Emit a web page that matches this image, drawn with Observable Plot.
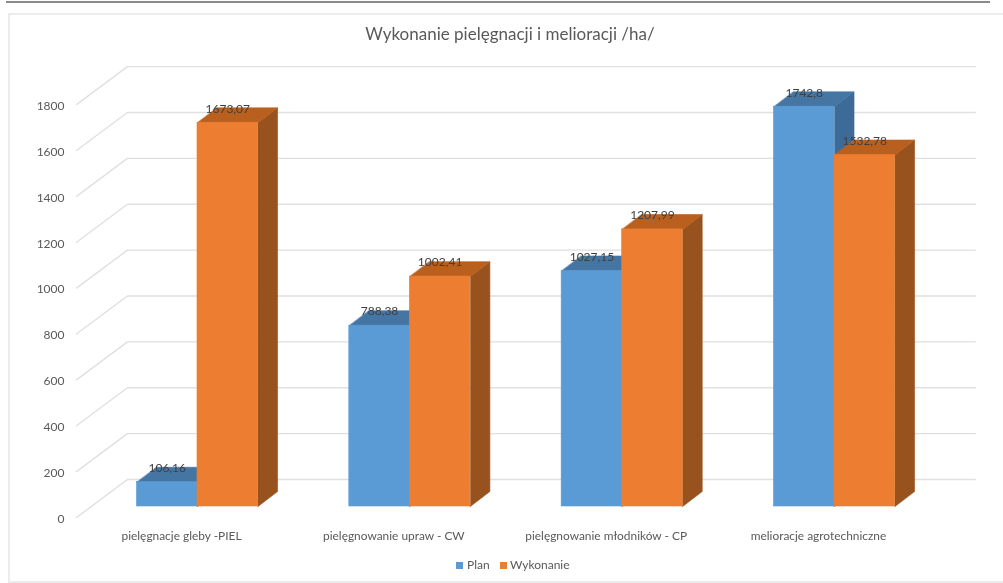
<!DOCTYPE html>
<html><head><meta charset="utf-8">
<script src="https://cdn.jsdelivr.net/npm/d3@7"></script>
<script src="https://cdn.jsdelivr.net/npm/@observablehq/plot@0.6"></script>
<style>
html,body{margin:0;padding:0;background:#fff;}
#page{position:relative;width:1003px;height:583px;overflow:hidden;font-family:Lato,sans-serif;filter:blur(0.6px);}
#rule{position:absolute;left:6px;top:1px;width:984px;height:2px;background:#8a8a8a;}
#frame{position:absolute;left:8px;top:13px;width:1020px;height:570px;border:2px solid #ececec;box-sizing:border-box;}
#title{position:absolute;left:0;top:22px;width:1020px;text-align:center;font-size:17px;color:#595959;line-height:24px;}
#chart{position:absolute;left:0;top:55px;}
#legend{position:absolute;top:557px;left:0;width:1003px;height:16px;font-size:12px;line-height:16px;color:#595959;}
#legend span{position:absolute;top:0;white-space:nowrap;}
#legend i{position:absolute;top:5px;width:7px;height:7px;}
</style></head><body>
<div id="page">
<div id="rule"></div><div id="frame"></div>
<div id="title">Wykonanie pielęgnacji i melioracji /ha/</div>
<div id="chart"></div>
<div id="legend">
<i style="left:456px;background:#5B9BD5"></i><span style="left:467px">Plan</span>
<i style="left:500px;background:#ED7D31"></i><span style="left:510px">Wykonanie</span>
</div>
</div>
<script>
const categories = ["pielęgnacje gleby -PIEL","pielęgnowanie upraw - CW","pielęgnowanie młodników - CP","melioracje agrotechniczne"];
const plan = [106.16, 788.38, 1027.15, 1742.8];
const wykonanie = [1673.07, 1002.41, 1207.99, 1532.78];
const planLabels = ["106,16","788,38","1027,15","1742,8"];
const wykonanieLabels = ["1673,07","1002,41","1207,99","1532,78"];
const yTicks = [0,200,400,600,800,1000,1200,1400,1600,1800];

// oblique projection, in scale units
const barW = 0.285, depthX = 0.092, depthY = 65;
const wallX = -0.33, wallEndX = 3.664, floorX = -0.57;
const wallY = 117.7, floorY = -48;

const series = [
  {values: plan, labels: planLabels, off: -barW, front: "#5B9BD5", top: "#4475A3", side: "#3C6B98"},
  {values: wykonanie, labels: wykonanieLabels, off: 0, front: "#ED7D31", top: "#BA601F", side: "#97521D"}
];
const bars = series.flatMap(s => s.values.map((v,i) => ({x1:i+s.off, x2:i+s.off+barW, v, label:s.labels[i], ...s})));
const topPoly = bars.flatMap((b,k) => [[b.x1,b.v],[b.x2,b.v],[b.x2+depthX,b.v+depthY],[b.x1+depthX,b.v+depthY]].map(([x,y]) => ({x,y,k,fill:b.top})));
const sidePoly = bars.flatMap((b,k) => [[b.x2,0],[b.x2+depthX,depthY],[b.x2+depthX,b.v+depthY],[b.x2,b.v]].map(([x,y]) => ({x,y,k,fill:b.side})));
const grid = yTicks.flatMap(t => [[floorX,t+floorY],[wallX,t+wallY],[wallEndX,t+wallY]].map(([x,y]) => ({x,y,t})));

const marks = [Plot.line(grid,{x:"x",y:"y",z:"t",stroke:"#e0e0e0",strokeWidth:1.4})];
// each bar series painted back to front so the orange hides the blue flank
for (const kind of [0,1]) {
  const n = categories.length, sel = d => d.k>=kind*n && d.k<(kind+1)*n;
  marks.push(Plot.line(sidePoly.filter(sel),{x:"x",y:"y",z:"k",fill:"fill",stroke:"fill",strokeWidth:0.6,curve:"linear-closed"}));
  marks.push(Plot.line(topPoly.filter(sel),{x:"x",y:"y",z:"k",fill:"fill",stroke:"fill",strokeWidth:0.6,curve:"linear-closed"}));
  marks.push(Plot.rect(bars.slice(kind*n,(kind+1)*n),{x1:"x1",x2:"x2",y1:0,y2:"v",fill:"front",stroke:"front",strokeWidth:0.6}));
}
marks.push(Plot.text(bars,{x:d=>(d.x1+d.x2)/2,y:"v",text:"label",dy:-14,fill:"#404040",fontSize:12}));
marks.push(Plot.axisY({ticks:yTicks,tickSize:0,tickPadding:0,dy:12.5,label:null,tickFormat:d=>String(d),fill:"#595959",fontSize:12,anchor:"left"}));
marks.push(Plot.axisX({ticks:[0,1,2,3],tickSize:0,tickPadding:0,dx:-16,dy:0,label:null,tickFormat:i=>categories[i],fill:"#595959",fontSize:11.9,anchor:"bottom"}));

const chart = Plot.plot({
  width:1003,height:490,marginLeft:64,marginRight:0,marginTop:0,marginBottom:14,
  style:{fontFamily:"Lato,sans-serif",background:"transparent",overflow:"visible"},
  x:{type:"linear",domain:[0,3],range:[197,834]},
  y:{type:"linear",domain:[0,1800],range:[451,38.1]},
  marks
});
document.getElementById("chart").appendChild(chart);
</script>
</body></html>
